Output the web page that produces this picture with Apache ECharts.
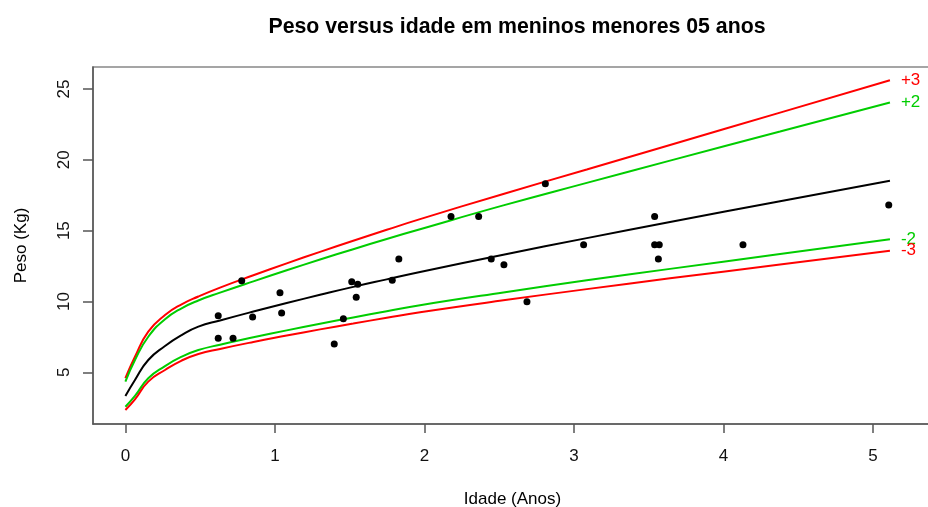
<!DOCTYPE html>
<html>
<head>
<meta charset="utf-8">
<script src="https://cdn.jsdelivr.net/npm/echarts@6/dist/echarts.min.js"></script>
<style>html,body{margin:0;padding:0;background:#fff}#c{width:928px;height:507px}</style>
</head>
<body>
<div id="c"></div>
<script>
// Age grid (years) for reference curves
const curveAges = [0, 0.064, 0.153, 0.265, 0.376, 0.488, 0.633, 0.856, 1.079, 1.302, 1.524, 1.748, 1.971, 2.528, 3.086, 3.643, 4.379, 5.114];
const zPlus3  = [4.58, 6.10, 7.87, 9.04, 9.80, 10.35, 10.98, 11.85, 12.69, 13.50, 14.29, 15.06, 15.81, 17.59, 19.32, 21.05, 23.33, 25.61];
const zPlus2  = [4.34, 5.87, 7.51, 8.74, 9.52, 10.07, 10.62, 11.42, 12.20, 12.96, 13.69, 14.41, 15.10, 16.78, 18.37, 19.94, 22.00, 24.04];
const zMedian = [3.33, 4.46, 5.87, 6.86, 7.63, 8.22, 8.66, 9.29, 9.89, 10.47, 11.03, 11.56, 12.08, 13.30, 14.47, 15.61, 17.08, 18.52];
const zMinus2 = [2.57, 3.33, 4.58, 5.44, 6.10, 6.57, 6.95, 7.47, 7.96, 8.43, 8.87, 9.31, 9.74, 10.64, 11.49, 12.30, 13.35, 14.39];
const zMinus3 = [2.34, 3.09, 4.34, 5.16, 5.83, 6.29, 6.65, 7.14, 7.59, 8.03, 8.44, 8.85, 9.24, 10.08, 10.87, 11.63, 12.61, 13.58];

// Observed children
const childAge = [0.621, 0.621, 0.720, 0.778, 0.851, 1.034, 1.045, 1.397, 1.458, 1.514, 1.554, 1.544, 1.785, 1.829, 2.178, 2.363, 2.447, 2.532, 2.686, 2.809, 3.065, 3.540, 3.540, 3.571, 3.565, 4.131, 5.106];
const childWeight = [8.99, 7.40, 7.40, 11.46, 8.90, 10.62, 9.18, 7.00, 8.78, 11.39, 11.21, 10.29, 11.49, 13.00, 16.00, 16.00, 13.00, 12.59, 9.98, 18.31, 14.00, 16.00, 14.00, 14.00, 13.00, 14.00, 16.81];

const xTicks = [0, 1, 2, 3, 4, 5];
const yTicks = [5, 10, 15, 20, 25];

const FONT = 'Liberation Sans';
const RED = '#ff0000', GREEN = '#00cd00', BLACK = '#000000';

function pairs(xs, ys) { return xs.map((x, i) => [x, ys[i]]); }

function curve(name, ys, color, label) {
  return {
    name, type: 'line', data: pairs(curveAges, ys),
    showSymbol: false, symbol: 'none', smooth: 0.5,
    lineStyle: { color, width: 2 }, itemStyle: { color },
    z: 3, silent: true,
    endLabel: label ? { show: true, formatter: label, color, fontSize: 17, fontFamily: FONT, distance: 11 } : { show: false }
  };
}

const chart = echarts.init(document.getElementById('c'), null, { renderer: 'canvas' });
chart.setOption({
  animation: false,
  backgroundColor: '#ffffff',
  title: {
    text: 'Peso versus idade em meninos menores 05 anos',
    left: 512, top: 12, textAlign: 'center',
    textStyle: { fontFamily: FONT, fontSize: 21.3, fontWeight: 'bold', color: '#000' }
  },
  grid: { left: 93, top: 67, width: 839, height: 357, outerBoundsMode: 'none', containLabel: false, show: true, borderColor: '#888', borderWidth: 1.5, backgroundColor: 'transparent' },
  xAxis: {
    type: 'value', min: -0.2167, max: 5.3953,
    name: 'Idade (Anos)', nameLocation: 'middle', nameGap: 67,
    nameTextStyle: { fontFamily: FONT, fontSize: 17, color: '#000' },
    axisLine: { show: true, onZero: false, lineStyle: { color: '#555', width: 1.5 } },
    axisTick: { show: true, length: 9, customValues: xTicks, lineStyle: { color: '#555', width: 1.5 } },
    axisLabel: { customValues: xTicks, margin: 24, fontFamily: FONT, fontSize: 17, color: '#111' },
    splitLine: { show: false }
  },
  yAxis: {
    type: 'value', min: 1.35, max: 26.55,
    name: 'Peso (Kg)', nameLocation: 'middle', nameGap: 63,
    nameTextStyle: { fontFamily: FONT, fontSize: 17, color: '#000' },
    axisLine: { show: true, onZero: false, lineStyle: { color: '#555', width: 1.5 } },
    axisTick: { show: true, length: 10, customValues: yTicks, lineStyle: { color: '#555', width: 1.5 } },
    axisLabel: { customValues: yTicks, rotate: 90, margin: 20, fontFamily: FONT, fontSize: 17, color: '#111' },
    splitLine: { show: false }
  },
  series: [
    curve('+3', zPlus3, RED, '+3'),
    curve('+2', zPlus2, GREEN, '+2'),
    curve('Mediana', zMedian, BLACK, null),
    curve('-2', zMinus2, GREEN, '-2'),
    curve('-3', zMinus3, RED, '-3'),
    {
      name: 'Crianças', type: 'scatter', data: pairs(childAge, childWeight),
      symbol: 'circle', symbolSize: 7, itemStyle: { color: '#000', opacity: 1 }, z: 4, silent: true
    }
  ]
});
</script>
</body>
</html>
